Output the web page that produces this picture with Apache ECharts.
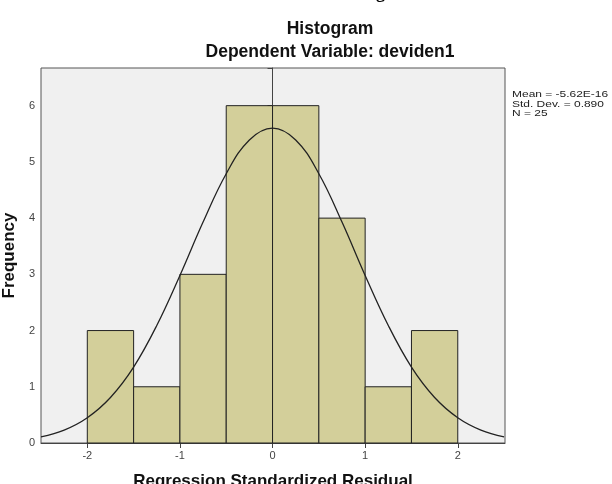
<!DOCTYPE html>
<html><head><meta charset="utf-8">
<script src="https://cdn.jsdelivr.net/npm/echarts@6/dist/echarts.min.js"></script>
<style>html,body{margin:0;padding:0;background:#fff}#c{width:612px;height:484px}</style>
</head><body><div id="c"></div>
<script>
// Histogram bins (left edges), bin width and counts
const binStarts = [-2, -1.5, -1, -0.5, 0, 0.5, 1, 1.5];
const binWidth = 0.5;
const counts = [2, 1, 3, 6, 6, 4, 1, 2];
// Normal curve
const curveX = [-2.5, -2.25, -2, -1.75, -1.5, -1.25, -1, -0.75, -0.5, -0.25, 0, 0.25, 0.5, 0.75, 1, 1.25, 1.5, 1.75, 2, 2.25, 2.5];
const curveY = [0.11, 0.23, 0.45, 0.81, 1.35, 2.09, 2.98, 3.93, 4.79, 5.39, 5.60, 5.39, 4.79, 3.93, 2.98, 2.09, 1.35, 0.81, 0.45, 0.23, 0.11];
const xTicks = [-2, -1, 0, 1, 2];
const statsLines = ['Mean = -5.62E-16', 'Std. Dev. = 0.890', 'N = 25'];

const chart = echarts.init(document.getElementById('c'), null, {renderer: 'canvas'});
const font = 'Arial, "Liberation Sans", sans-serif';
chart.setOption({
  animation: false,
  backgroundColor: '#ffffff',
  title: [
    {text: 'Histogram', left: 325, top: 15, textAlign: 'center',
     textStyle: {fontFamily: font, fontSize: 17.5, fontWeight: 'bold', color: '#111'}},
    {text: 'Dependent Variable: deviden1', left: 325, top: 38, textAlign: 'center',
     textStyle: {fontFamily: font, fontSize: 17.5, fontWeight: 'bold', color: '#111'}}
  ],
  grid: {left: 41, right: 107, top: 68, bottom: 41, show: true, outerBoundsMode: 'none', containLabel: false,
         backgroundColor: '#f0f0f0', borderColor: '#555', borderWidth: 1},
  xAxis: {
    type: 'value', min: -2.5, max: 2.51,
    name: 'Regression Standardized Residual', nameLocation: 'middle', nameGap: 30,
    nameTextStyle: {fontFamily: font, fontSize: 17, fontWeight: 'bold', color: '#111'},
    axisLine: {show: true, lineStyle: {color: '#444'}},
    axisTick: {show: true, length: 5, lineStyle: {color: '#444'}, customValues: xTicks},
    axisLabel: {fontFamily: font, fontSize: 11, color: '#444', margin: 7, customValues: xTicks},
    splitLine: {show: false}
  },
  yAxis: {
    type: 'value', min: 0, max: 6.67, interval: 1,
    name: 'Frequency', nameLocation: 'middle', nameGap: 22, nameRotate: 90,
    nameTextStyle: {fontFamily: font, fontSize: 17, fontWeight: 'bold', color: '#111'},
    axisLine: {show: true, lineStyle: {color: '#444'}},
    axisTick: {show: true, length: 5, lineStyle: {color: '#444'}},
    axisLabel: {fontFamily: font, fontSize: 11, color: '#444', margin: 6,
      formatter: v => (Math.abs(v - Math.round(v)) < 1e-9 ? String(Math.round(v)) : '')},
    splitLine: {show: false}
  },
  graphic: [
    {type: 'text', x: 512, y: 90, scaleX: 1.26, style: {text: statsLines.join('\n'), font: '9.5px ' + font, fill: '#222', lineHeight: 9.5}},
    {type: 'text', left: 335, top: -16, style: {text: 'Histogram', font: 'bold 18px "Liberation Serif", serif', fill: '#000'}}
  ],
  series: [
    {
      type: 'custom',
      data: binStarts.map((s, i) => [s, counts[i]]),
      renderItem: (params, api) => {
        const x0 = api.value(0), c = api.value(1);
        const p1 = api.coord([x0, c]);
        const p2 = api.coord([x0 + binWidth, 0]);
        return {type: 'rect', shape: {x: p1[0], y: p1[1], width: p2[0] - p1[0], height: p2[1] - p1[1]},
                style: {fill: '#d3cf9a', stroke: '#222', lineWidth: 1}};
      },
      z: 2
    },
    {
      type: 'line', data: curveX.map((x, i) => [x, curveY[i]]), smooth: 0.4,
      showSymbol: false, lineStyle: {color: '#222', width: 1.3}, z: 3
    }
  ]
});
</script></body></html>
